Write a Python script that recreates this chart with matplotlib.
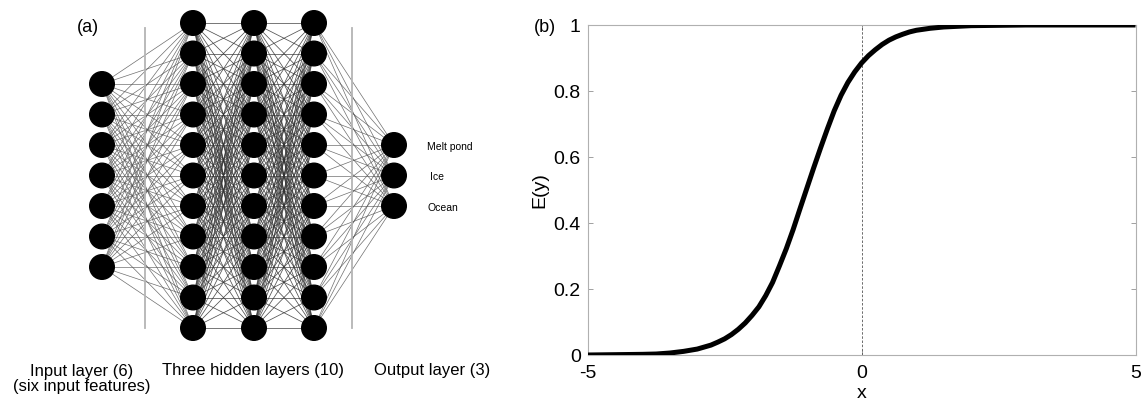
import matplotlib
matplotlib.use('Agg')
import matplotlib.pyplot as plt
from matplotlib.collections import LineCollection
from matplotlib.patches import Circle

plt.rcParams['font.family'] = ['Liberation Sans', 'DejaVu Sans']

# ---- panel (a): network ----
layer_sizes = [7, 11, 11, 11, 3]
output_names = ['Melt pond', 'Ice', 'Ocean']
layer_titles = ['Input layer (6)\n(six input features)',
                'Three hidden layers (10)',
                'Output layer (3)']

# ---- panel (b): E(y) ----
x_vals = [-5, -4.5, -4, -3.75, -3.5, -3.25, -3, -2.875, -2.75, -2.625, -2.5,
          -2.375, -2.25, -2.125, -2, -1.875, -1.75, -1.625, -1.5, -1.375,
          -1.25, -1.125, -1, -0.875, -0.75, -0.625, -0.5, -0.375, -0.25,
          -0.125, 0, 0.125, 0.25, 0.375, 0.5, 0.625, 0.75, 0.875, 1, 1.25,
          1.5, 1.75, 2, 2.5, 3, 4, 5]
ey_vals = [0.0, 0.001, 0.002, 0.003, 0.006, 0.011, 0.018, 0.024, 0.03, 0.039,
           0.049, 0.062, 0.078, 0.097, 0.12, 0.146, 0.18, 0.22, 0.27, 0.322,
           0.38, 0.443, 0.505, 0.567, 0.627, 0.685, 0.74, 0.787, 0.826,
           0.858, 0.885, 0.907, 0.925, 0.941, 0.954, 0.964, 0.972, 0.979,
           0.984, 0.99, 0.994, 0.996, 0.998, 0.999, 1.0, 1.0, 1.0]
y_ticks = [0, 0.2, 0.4, 0.6, 0.8, 1]
y_tick_labels = ['0', '0.2', '0.4', '0.6', '0.8', '1']
x_ticks = [-5, 0, 5]
x_tick_labels = ['-5', '0', '5']

W, H = 1141, 405
fig = plt.figure(figsize=(W / 100, H / 100), dpi=100)

# network axes in pixel units
ax_net = fig.add_axes([0, 0, 480 / W, 1])
ax_net.set_xlim(0, 480)
ax_net.set_ylim(H, 0)
ax_net.axis('off')

layer_x = [102, 193, 254, 314, 394]
spacing = 30.5
y_mid = 175.5
node_r = 12.3

nodes = []
for n, lx in zip(layer_sizes, layer_x):
    ys = [y_mid + (i - (n - 1) / 2) * spacing for i in range(n)]
    nodes.append([(lx, y) for y in ys])

for k, (a, b) in enumerate(zip(nodes[:-1], nodes[1:])):
    segs = [[p, q] for p in a for q in b]
    dense = 0 < k < 3
    ax_net.add_collection(LineCollection(
        segs, colors='#333333' if dense else '#555555',
        linewidths=0.55 if dense else 0.5, alpha=0.85, zorder=1))

for layer in nodes:
    for (cx, cy) in layer:
        ax_net.add_patch(Circle((cx, cy), node_r, color='black', zorder=3))

# separators between layer groups
for sx in [145, 352]:
    ax_net.plot([sx, sx], [28, 328], color='#b4b4b4', lw=1.3, zorder=2)

for (cx, cy), name, dx in zip(nodes[-1], output_names, [33, 36, 34]):
    ax_net.text(cx + dx, cy + 2, name, fontsize=7.5, va='center', ha='left')

ax_net.text(82, 379, layer_titles[0], fontsize=12, ha='center', va='center',
            linespacing=1.05)
ax_net.text(253, 370, layer_titles[1], fontsize=12, ha='center', va='center')
ax_net.text(432, 370, layer_titles[2], fontsize=12, ha='center', va='center')
ax_net.text(88, 27, '(a)', fontsize=13, ha='center', va='center')

# ---- panel (b) ----
ax = fig.add_axes([587.7 / W, 50 / H, (1135.5 - 587.7) / W, 330 / H])
ax.plot(x_vals, ey_vals, color='black', lw=3.6, solid_joinstyle='round',
        solid_capstyle='butt', zorder=3)
ax.axvline(0, color='#555555', lw=0.6, ls=(0, (3, 2)), zorder=2)
ax.set_xlim(-5, 5)
ax.set_ylim(0, 1)
ax.set_xticks(x_ticks)
ax.set_xticklabels(x_tick_labels)
ax.set_yticks(y_ticks)
ax.set_yticklabels(y_tick_labels)
ax.tick_params(direction='in', length=3.5, width=0.7, color='#a0a0a0',
               labelsize=14, top=True, right=True)
ax.tick_params(axis='x', pad=7)
ax.tick_params(axis='y', pad=5)
for s in ax.spines.values():
    s.set_color('#b0b0b0')
    s.set_linewidth(0.8)
ax.set_xlabel('x', fontsize=14, labelpad=2)
ax.set_ylabel('E(y)', fontsize=14, labelpad=4)
fig.text(545 / W, 1 - 27 / H, '(b)', fontsize=13, ha='center', va='center')

fig.savefig('out.png', dpi=100)
